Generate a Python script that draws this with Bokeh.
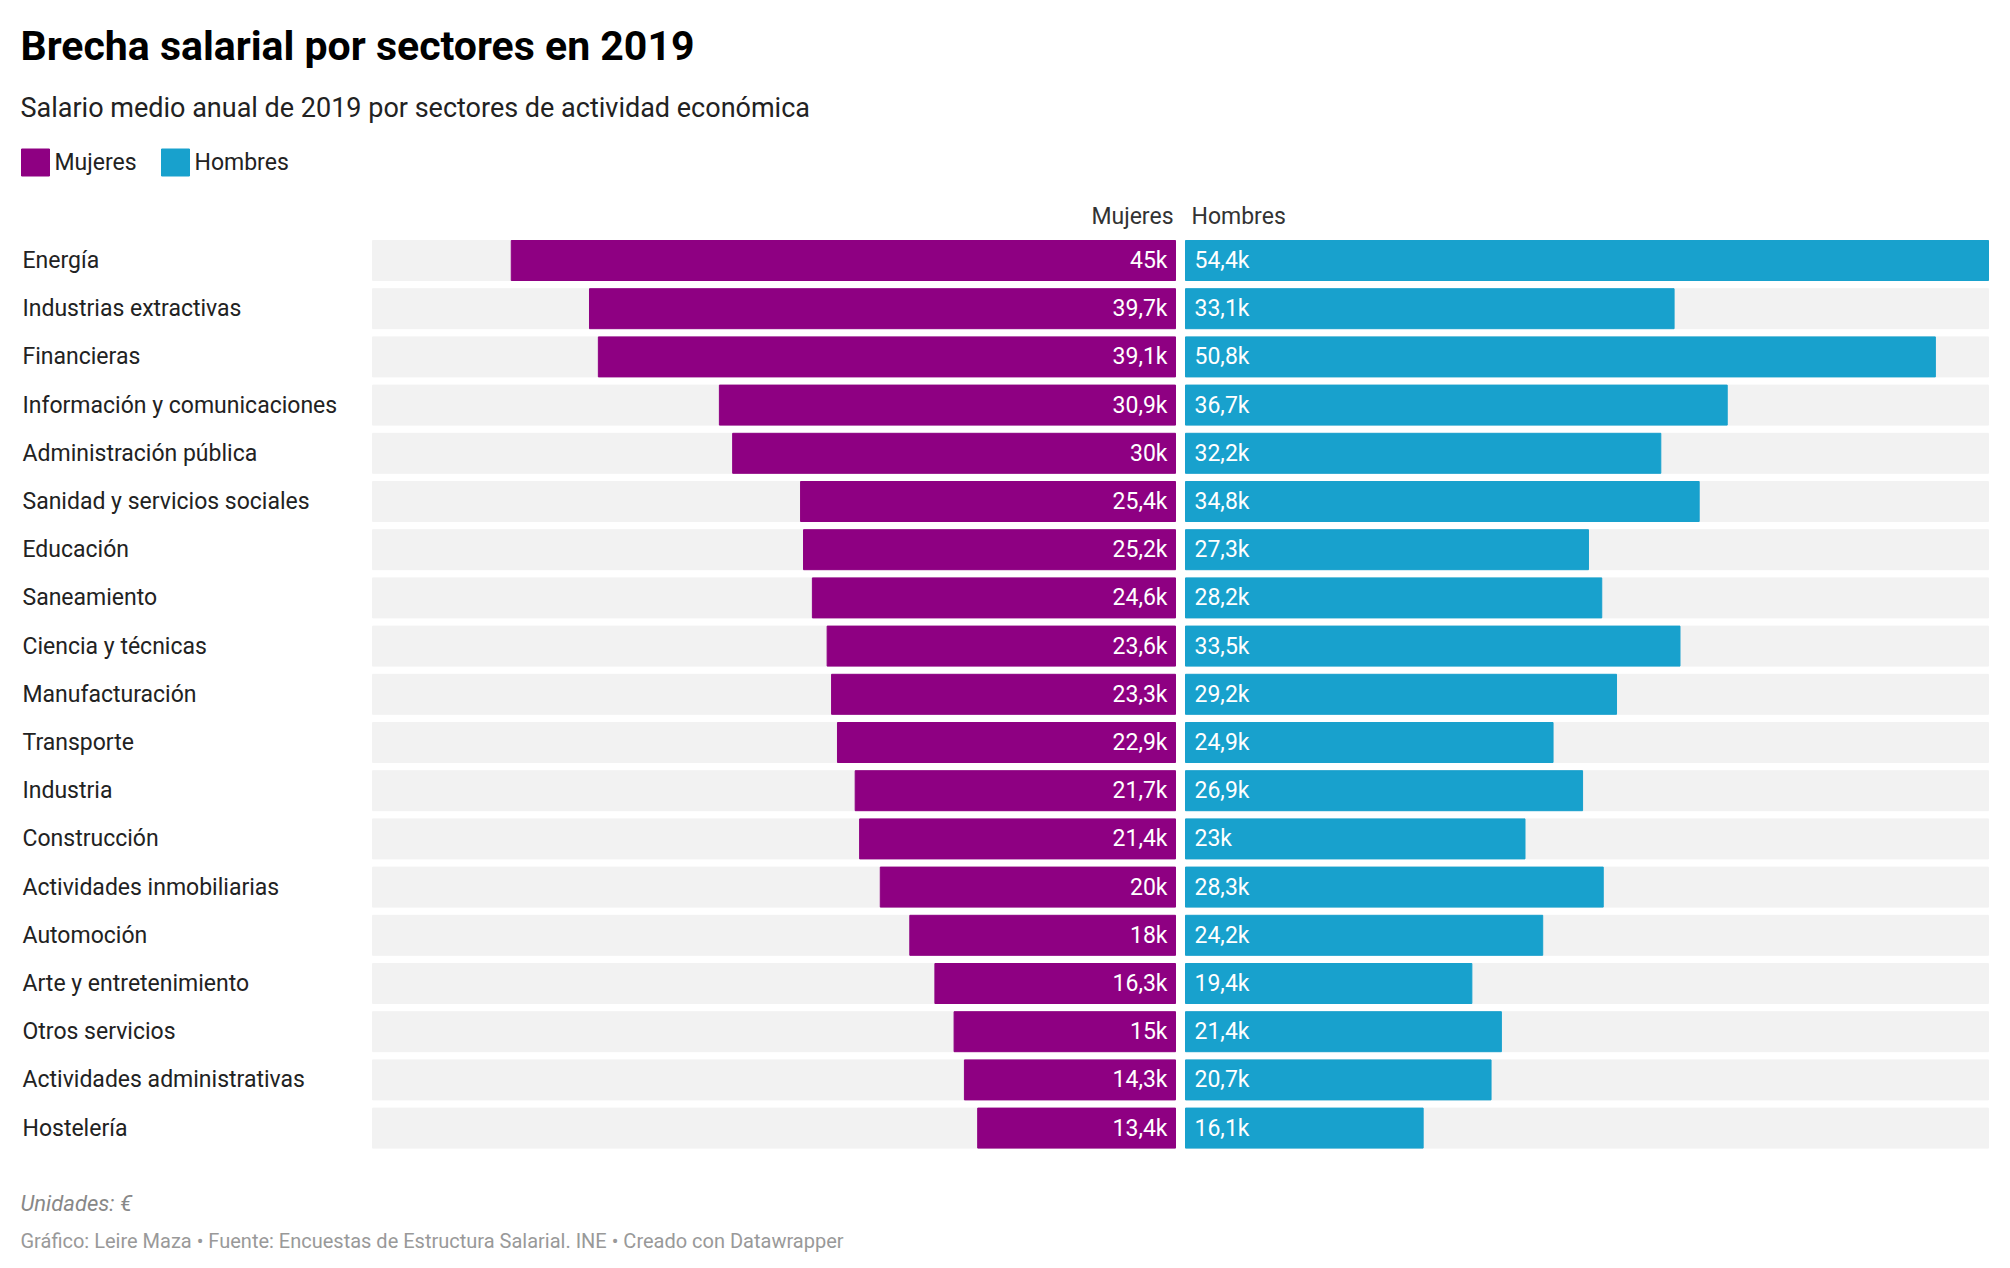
from bokeh.plotting import figure
from bokeh.models import Range1d
from bokeh.core.properties import value
from bokeh.embed import file_html
from bokeh.resources import INLINE

sectores = ["Energía", "Industrias extractivas", "Financieras", "Información y comunicaciones",
            "Administración pública", "Sanidad y servicios sociales", "Educación", "Saneamiento",
            "Ciencia y técnicas", "Manufacturación", "Transporte", "Industria", "Construcción",
            "Actividades inmobiliarias", "Automoción", "Arte y entretenimiento", "Otros servicios",
            "Actividades administrativas", "Hostelería"]
mujeres = [45, 39.7, 39.1, 30.9, 30, 25.4, 25.2, 24.6, 23.6, 23.3, 22.9, 21.7, 21.4, 20, 18, 16.3, 15, 14.3, 13.4]
hombres = [54.4, 33.1, 50.8, 36.7, 32.2, 34.8, 27.3, 28.2, 33.5, 29.2, 24.9, 26.9, 23, 28.3, 24.2, 19.4, 21.4, 20.7, 16.1]
MAXV = 54.4

W, H = 1994, 1252
CENTER = 1175   # pixel where women's bars end
LEFT = 372      # pixel where background starts
K = MAXV / (CENTER - LEFT)  # k€ per pixel
GAP = 10 * K

def fmt(v):
    s = ("%.1f" % v).rstrip("0").rstrip(".")
    return s.replace(".", ",") + "k"

p = figure(width=W, height=H, output_backend="svg", toolbar_location=None,
           x_range=Range1d(-CENTER * K, (W - CENTER) * K), y_range=Range1d(H, 0),
           min_border=0)
p.axis.visible = False
p.grid.visible = False
p.outline_line_color = None

font = value("Roboto")
ys = [260 + 48.2 * i for i in range(len(sectores))]
bh = 40
purple, blue = "#8e0082", "#18a1cd"

p.hbar(y=ys, left=-MAXV, right=0, height=bh, color="#f2f2f2")
p.hbar(y=ys, left=GAP, right=GAP + MAXV, height=bh, color="#f2f2f2")
p.hbar(y=ys, left=[-v for v in mujeres], right=0, height=bh, color=purple)
p.hbar(y=ys, left=GAP, right=[GAP + v for v in hombres], height=bh, color=blue)

p.text(x=[-8 * K] * len(ys), y=ys, text=[fmt(v) for v in mujeres], text_align="right",
       text_baseline="middle", text_color="white", text_font=font, text_font_size="23px")
p.text(x=[GAP + 9 * K] * len(ys), y=ys, text=[fmt(v) for v in hombres], text_align="left",
       text_baseline="middle", text_color="white", text_font=font, text_font_size="23px")
p.text(x=[-(CENTER - 22) * K] * len(ys), y=ys, text=sectores, text_align="left",
       text_baseline="middle", text_color="#222222", text_font=font, text_font_size="23px")

# column headers
p.text(x=[-2 * K], y=[216], text=["Mujeres"], text_align="right", text_baseline="middle",
       text_color="#333333", text_font=font, text_font_size="23px")
p.text(x=[GAP + 6 * K], y=[216], text=["Hombres"], text_align="left", text_baseline="middle",
       text_color="#333333", text_font=font, text_font_size="23px")

x0 = -(CENTER - 20) * K
p.text(x=[x0], y=[45], text=["Brecha salarial por sectores en 2019"], text_baseline="middle",
       text_font=font, text_font_size="41px", text_font_style="bold", text_color="#000000")
p.text(x=[x0], y=[107], text=["Salario medio anual de 2019 por sectores de actividad económica"],
       text_baseline="middle", text_font=font, text_font_size="27px", text_color="#222222")

# legend
p.rect(x=[-(CENTER - 35) * K, -(CENTER - 175) * K], y=[162, 162], width=28 * K, height=27,
       color=[purple, blue])
p.text(x=[-(CENTER - 54) * K, -(CENTER - 194) * K], y=[162, 162], text=["Mujeres", "Hombres"],
       text_baseline="middle", text_font=font, text_font_size="23px", text_color="#222222")

p.text(x=[x0], y=[1203], text=["Unidades: €"], text_baseline="middle", text_font=font,
       text_font_size="22px", text_font_style="italic", text_color="#888888")
p.text(x=[x0], y=[1240], text=["Gráfico: Leire Maza • Fuente: Encuestas de Estructura Salarial. INE • Creado con Datawrapper"],
       text_baseline="middle", text_font=font, text_font_size="20px", text_color="#999999")

open("out.html", "w").write(file_html(p, INLINE))
